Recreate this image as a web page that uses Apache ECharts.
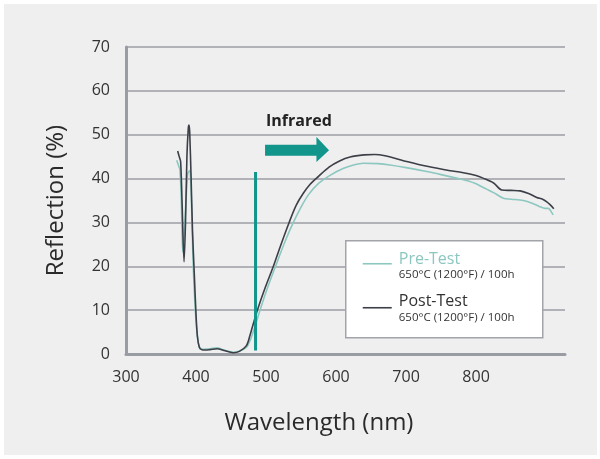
<!DOCTYPE html>
<html>
<head>
<meta charset="utf-8">
<script src="https://cdn.jsdelivr.net/npm/echarts@6/dist/echarts.min.js"></script>
<style>
  html, body { margin: 0; padding: 0; background: #ffffff; }
  #wrap { position: relative; width: 600px; height: 459px; }
  #bg { position: absolute; left: 4px; top: 4px; width: 593px; height: 451px; background: #efefef; }
  #chart { position: absolute; left: 0; top: 0; width: 600px; height: 459px; }
</style>
</head>
<body>
<div id="wrap"><div id="bg"></div><div id="chart"></div></div>
<script>
// ---- data ----
const preWavelength = [372.4,375,377,379,381,383,386,388,389,390.5,392,394,396,399,402,405,410,420,430,440,453,462,472,477,484,491.4,501,515,527,539,550,561,575,592,610,625,639,660,677,700,729.5,750,772,790,800,815,825,839,850,867.6,880,891,898.6,903,906,910];
const preReflection = [44.2,43,42,35,23.3,27,36,41,41.4,41.8,41,32,20,10,4,1.6,1.1,1.2,1.4,0.9,0.4,0.7,1.5,3.0,6.2,10,14.6,20.6,25.6,30,33.5,36.4,38.9,40.8,42.3,43.1,43.5,43.4,43.1,42.5,41.6,40.9,40.1,39.4,38.8,37.6,36.8,35.5,35.3,35.0,34.4,33.6,33.2,33.2,32.8,31.7];
const postWavelength = [373.8,376,378,380,382.9,385,387,389,390,391,393,395,397.6,400,402,404.8,408,413,420,430,440,453,462,472,477,482,487.6,499,510.5,521,533,543,553,563,575,590,605,620,640,655,670,701,730,763,780,800,810,825,836.7,850,863,875,886.7,895,901,906,911];
const postReflection = [46.3,45.0,43.9,35,21,30,45,51.5,52.2,50.5,40,28,18,9,4,1.5,1.0,0.9,1.0,1.2,0.8,0.3,0.6,1.9,4.2,7.0,10,15.2,20,24.8,30,33.9,36.6,38.7,40.5,42.6,44.0,44.9,45.4,45.5,45.2,43.9,42.8,41.8,41.4,40.7,40.1,39,37.4,37.3,37.2,36.6,35.7,35.3,34.7,34,33.1];
const boundaryWavelength = [485, 485];
const boundaryReflection = [0.8, 41.5];
const xTickLabels = ['300','400','500','600','700','800'];
const yTickLabels = ['0','10','20','30','40','50','60','70'];
const seriesNames = ['Pre-Test', 'Post-Test'];
const legendSubtitle = '650°C (1200°F) / 100h';
const annotationText = 'Infrared';

const PRE_COLOR = '#8cc7c0';
const POST_COLOR = '#3c3f47';
const TEAL = '#12958a';
const FONT = 'Open Sans';

function pairs(xs, ys) { return xs.map((x, i) => [x, ys[i]]); }

const chart = echarts.init(document.getElementById('chart'), null, { renderer: 'canvas' });

const option = {
  backgroundColor: 'transparent',
  animation: false,
  textStyle: { fontFamily: FONT },
  grid: { left: 126, top: 47, right: 35, bottom: 105, containLabel: false },
  xAxis: {
    type: 'value', min: 300, max: 927, interval: 100,
    name: 'Wavelength (nm)', nameLocation: 'middle', nameGap: 57,
    nameTextStyle: { fontSize: 24, color: '#2a2a2a', fontFamily: FONT, padding: [0, 53, 0, 0] },
    axisLine: { show: true, lineStyle: { color: '#9a9ca3', width: 3 } },
    axisTick: { show: false },
    splitLine: { show: false },
    axisLabel: {
      color: '#333', fontSize: 16, margin: 15, fontFamily: FONT,
      formatter: v => xTickLabels.indexOf(String(v)) >= 0 ? String(v) : ''
    }
  },
  yAxis: {
    type: 'value', min: 0, max: 70, interval: 10,
    name: 'Reflection (%)', nameLocation: 'middle', nameGap: 58,
    nameTextStyle: { fontSize: 24, color: '#2a2a2a', fontFamily: FONT },
    axisLine: { show: true, lineStyle: { color: '#9a9ca3', width: 3 } },
    axisTick: { show: false },
    splitLine: { show: true, lineStyle: { color: '#9c9ea5', width: 1.5 } },
    axisLabel: {
      color: '#333', fontSize: 16, margin: 16, fontFamily: FONT,
      formatter: v => yTickLabels.indexOf(String(v)) >= 0 ? String(v) : ''
    }
  },
  series: [
    {
      name: seriesNames[0], type: 'line', data: pairs(preWavelength, preReflection),
      smooth: 0.3, showSymbol: false, lineStyle: { color: PRE_COLOR, width: 1.6 }, z: 3
    },
    {
      name: seriesNames[1], type: 'line', data: pairs(postWavelength, postReflection),
      smooth: 0.3, showSymbol: false, lineStyle: { color: POST_COLOR, width: 1.6 }, z: 4
    },
    {
      name: 'boundary', type: 'line', data: pairs(boundaryWavelength, boundaryReflection),
      showSymbol: false, lineStyle: { color: TEAL, width: 3 }, z: 5
    }
  ]
};
chart.setOption(option);

// annotation arrow + text positioned through the axes
const p = (x, y) => chart.convertToPixel({ gridIndex: 0 }, [x, y]);
const a0 = p(498.6, 47.7), a1 = p(572, 47.7), a2 = p(572, 49.5), a3 = p(590, 46.45),
      a4 = p(572, 43.8), a5 = p(572, 45.2), a6 = p(498.6, 45.2);
const tpos = p(500, 53);

chart.setOption({
  graphic: [
    {
      type: 'polygon', z: 10,
      shape: { points: [a0, a1, a2, a3, a4, a5, a6] },
      style: { fill: TEAL }
    },
    {
      type: 'text', z: 10, x: tpos[0], y: tpos[1],
      style: { text: annotationText, font: 'bold 16px ' + FONT, fill: '#222', textVerticalAlign: 'middle' }
    },
    {
      type: 'group', z: 20, left: 345, top: 240,
      children: [
        { type: 'rect', shape: { x: 0, y: 0, width: 197, height: 97 }, style: { fill: '#ffffff', stroke: '#a2a4aa', lineWidth: 1.5 } },
        { type: 'line', shape: { x1: 17, y1: 23, x2: 46, y2: 23 }, style: { stroke: PRE_COLOR, lineWidth: 1.6 } },
        { type: 'text', x: 53, y: 19, style: { text: seriesNames[0], font: '16px ' + FONT, fill: PRE_COLOR, textVerticalAlign: 'middle' } },
        { type: 'text', x: 53, y: 34, style: { text: legendSubtitle, font: '11.5px ' + FONT, fill: '#333', textVerticalAlign: 'middle' } },
        { type: 'line', shape: { x1: 17, y1: 67, x2: 46, y2: 67 }, style: { stroke: POST_COLOR, lineWidth: 1.6 } },
        { type: 'text', x: 53, y: 61, style: { text: seriesNames[1], font: '16px ' + FONT, fill: '#333', textVerticalAlign: 'middle' } },
        { type: 'text', x: 53, y: 77, style: { text: legendSubtitle, font: '11.5px ' + FONT, fill: '#333', textVerticalAlign: 'middle' } }
      ]
    }
  ]
});
</script>
</body>
</html>
